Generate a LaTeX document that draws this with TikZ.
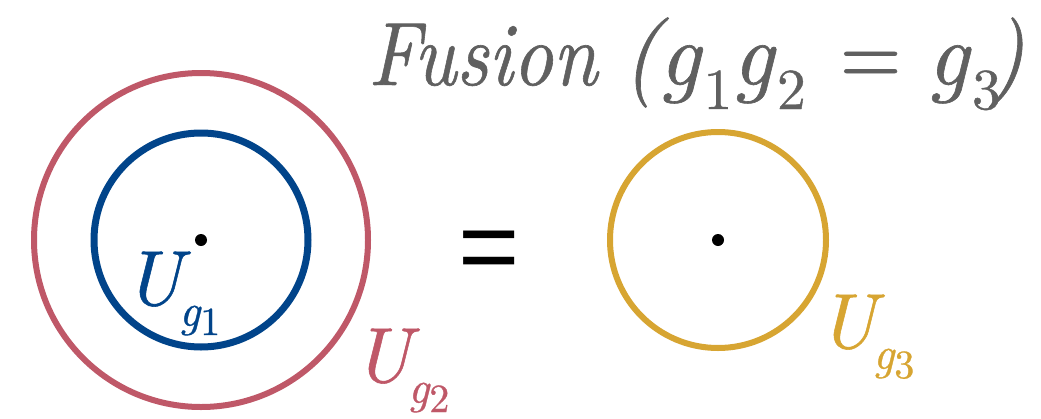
\documentclass[tikz,border=0pt]{standalone}
\usepackage{fontspec}
\newfontfamily\eqfont{Liberation Sans}
\newfontface\tit{lmroman10-italic.otf}[FakeBold=0.7]
\newfontface\tup{lmroman10-regular.otf}[FakeBold=0.7]
\definecolor{cred}{HTML}{BF5868}
\definecolor{cblue}{HTML}{01448A}
\definecolor{cyel}{HTML}{D7A532}
\definecolor{cgrey}{HTML}{606060}
\newcommand\tsub[1]{\kern3pt\raisebox{-24pt}{\fontsize{58}{68}\tup #1}}
\newcommand\Ulab[1]{{\fontsize{78}{94}\tit U}\kern-3pt\raisebox{-21pt}{\fontsize{46}{55}\tit g\raisebox{-9pt}{\fontsize{40}{48}\tup #1}}}
\begin{document}
\begin{tikzpicture}[x=1pt,y=-1pt,
  ring/.style={circle, draw, inner sep=0pt, outer sep=0pt},
  centre/.style={circle, fill=black, inner sep=0pt, minimum size=12pt},
  lab/.style={anchor=base west, inner sep=0pt}]
\useasboundingbox (0,0) rectangle (1041,418);
\node[ring, draw=cred, line width=6pt, minimum size=334pt] (c2) at (201,240) {};
\node[ring, draw=cblue, line width=7pt, minimum size=214pt] (c1) at (201,240) {};
\node[ring, draw=cyel, line width=6pt, minimum size=216pt] (c3) at (718,240) {};
\node[centre] (d1) at (201,240) {};
\node[centre] (d3) at (718,240) {};
\node[anchor=base west, inner sep=0pt, text=cgrey, font=\fontsize{90}{108}\tit] (title) at (368,85)
  {\scalebox{0.877}[1]{Fusion}\hspace{25pt}(g\tsub{1}g\tsub{2}\hspace{34pt}\scalebox{0.88}[1]{\tup =}\hspace{26pt}g\tsub{3}\kern-13pt)};
\node[lab, text=cblue] (l1) at (124,305) {\Ulab{1}};
\node[lab, text=cred] (l2) at (353,382) {\Ulab{2}};
\node[lab, text=cyel] (l3) at (818,348) {\Ulab{3}};
\node[anchor=base, inner sep=0pt, font=\eqfont\fontsize{105}{126}\selectfont] (eq) at (489,282) {=};
\end{tikzpicture}
\end{document}
